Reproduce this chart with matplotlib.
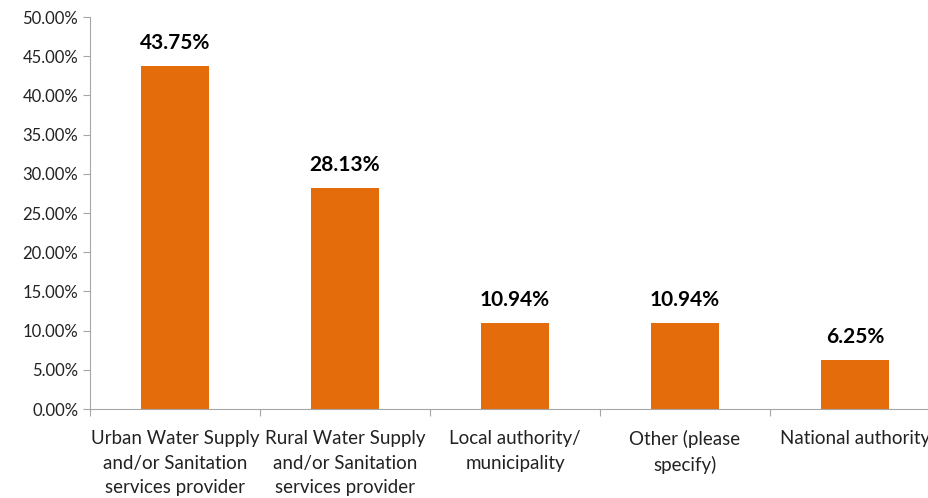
import numpy as np
import matplotlib.pyplot as plt
from matplotlib.ticker import FuncFormatter

categories = ["Urban Water Supply\nand/or Sanitation\nservices provider",
              "Rural Water Supply\nand/or Sanitation\nservices provider",
              "Local authority/\nmunicipality",
              "Other (please\nspecify)",
              "National authority"]
values = [43.75, 28.13, 10.94, 10.94, 6.25]

plt.rcParams['font.family'] = ['Lato', 'DejaVu Sans']

fig = plt.figure(figsize=(9.29, 4.98), dpi=100)
ax = fig.add_axes([90 / 929, 89 / 498, 850 / 929, 392 / 498])

x = np.arange(len(values))
ax.bar(x, values, width=0.4, color='#E46C0A')
for xi, v in zip(x, values):
    ax.text(xi, v + 1.7, f"{v:.2f}%", ha='center', va='bottom',
            fontsize=15, fontweight='bold', color='black')

ax.set_xlim(-0.5, len(values) - 0.5)
ax.set_ylim(0, 50)
ax.set_yticks(np.arange(0, 50.1, 5))
ax.yaxis.set_major_formatter(FuncFormatter(lambda v, p: f"{v:.2f}%"))
ax.set_xticks(np.arange(-0.5, len(values), 1))
ax.set_xticklabels([])
ax.set_xticks(x, minor=True)
ax.set_xticklabels(categories, minor=True, fontsize=13.5, color='#222222',
                   linespacing=1.55)
ax.tick_params(axis='x', which='minor', length=0, pad=15)
ax.tick_params(axis='x', which='major', length=5, color='#A6A6A6')
ax.tick_params(axis='y', length=5, color='#A6A6A6', labelsize=12,
               labelcolor='#222222')

for s in ['top', 'right']:
    ax.spines[s].set_visible(False)
for s in ['left', 'bottom']:
    ax.spines[s].set_color('#A6A6A6')

fig.savefig('out.png', dpi=100)
